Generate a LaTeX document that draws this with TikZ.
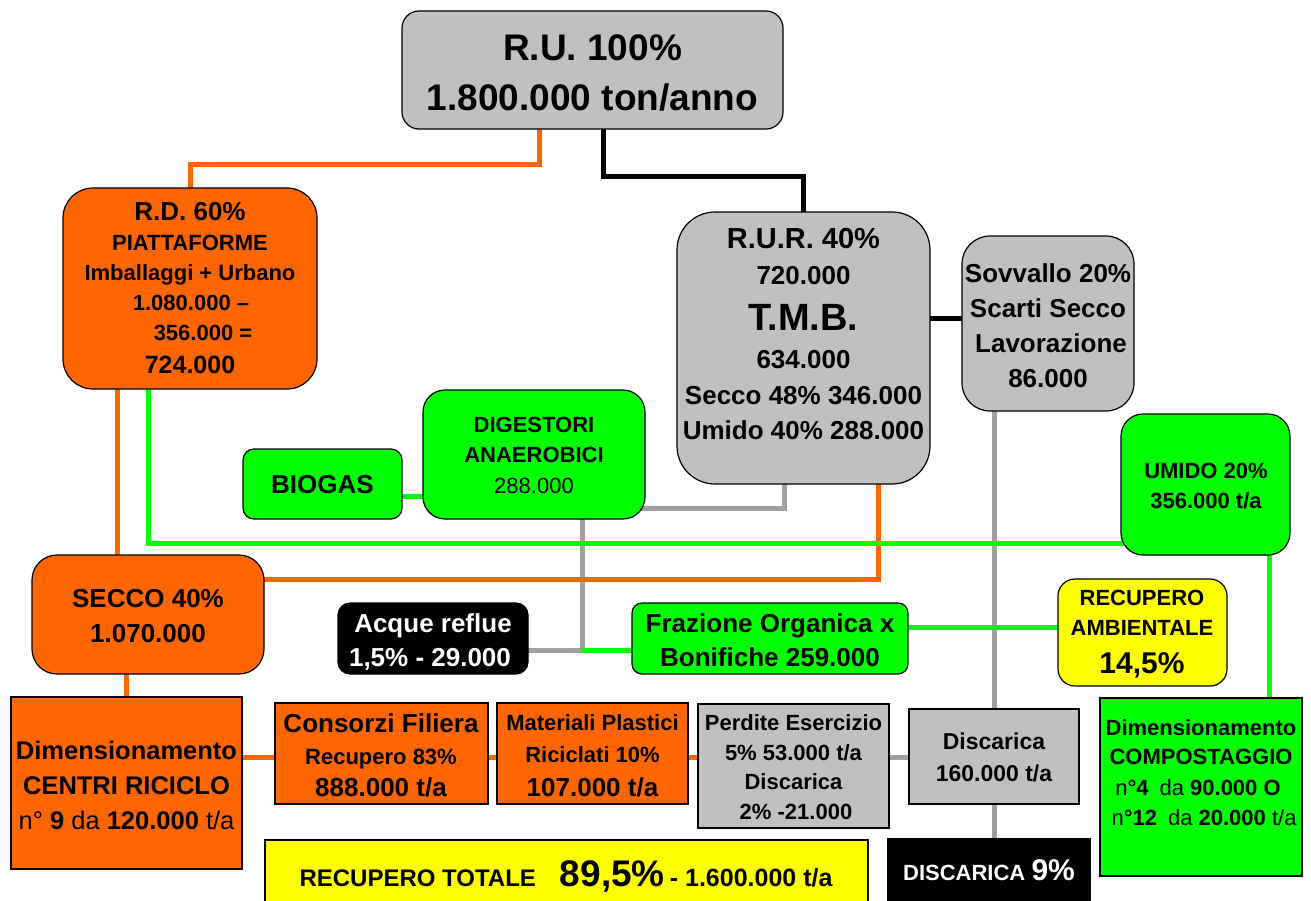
\documentclass[tikz,border=0pt]{standalone}
\usepackage{fontspec}
\setmainfont{Liberation Sans}
\usetikzlibrary{calc}
\pgfdeclarelayer{bg}
\pgfsetlayers{bg,main}
\definecolor{ora}{HTML}{FF6600}
\definecolor{grn}{HTML}{00FF00}
\definecolor{gfill}{HTML}{C0C0C0}
\definecolor{gline}{HTML}{A0A0A0}
\definecolor{yel}{HTML}{FFFF00}
\newcommand{\mkbox}[6]{\node[#6, minimum width={(#4-#2)*1pt}, minimum height={(#5-#3)*1pt}] (#1) at ({(#2+#4)/2},{(#3+#5)/2}) {};}
\newcommand{\tline}[5]{\node[tx, font=\fontsize{#4}{#4}\selectfont\bfseries] (#1) at (#2,{#3+0.358*#4}) {#5};}
\tikzset{
  tx/.style={anchor=base, inner sep=0pt, outer sep=0pt},
  box/.style={draw=black, line width=1.2pt, inner sep=0pt, outer sep=0pt},
  sbox/.style={draw=black, line width=1.5pt, inner sep=0pt, outer sep=0pt},
  conn/.style={line width=5pt},
  oL/.style={conn, draw=ora},
  gnL/.style={conn, draw=grn},
  gL/.style={conn, draw=gline},
  bL/.style={conn, draw=black},
}
\begin{document}
\begin{tikzpicture}[x=1pt,y=-1pt]
\useasboundingbox (0,0) rectangle (1311,900);
% boxes
\mkbox{ru}{402}{11}{783}{129}{box, fill=gfill, rounded corners=17pt}
\mkbox{rd}{63}{188}{317}{389}{box, fill=ora, rounded corners=30pt}
\mkbox{rur}{677}{212}{930}{484}{box, fill=gfill, rounded corners=38pt}
\mkbox{sov}{962}{236}{1134}{411}{box, fill=gfill, rounded corners=28pt}
\mkbox{dig}{423}{390}{645}{519}{box, fill=grn, rounded corners=22pt}
\mkbox{bio}{243}{449}{402}{519}{box, fill=grn, rounded corners=11pt}
\mkbox{umi}{1121}{414}{1290}{555}{box, fill=grn, rounded corners=22pt}
\mkbox{sec}{32}{555}{264}{674}{box, fill=ora, rounded corners=25pt}
\mkbox{acq}{338}{603}{528}{674}{box, fill=black, rounded corners=12pt}
\mkbox{fra}{632}{603}{908}{674}{box, fill=grn, rounded corners=10pt}
\mkbox{ram}{1058}{579}{1227}{686}{box, fill=yel, rounded corners=17pt}
\mkbox{cen}{11}{697}{242}{869}{sbox, fill=ora}
\mkbox{con}{275}{703}{488}{804}{sbox, fill=ora}
\mkbox{mat}{497}{703}{688}{804}{sbox, fill=ora}
\mkbox{per}{698}{704}{889}{828}{sbox, fill=gfill}
\mkbox{dis}{909}{709}{1079}{804}{sbox, fill=gfill}
\mkbox{dnove}{888}{839}{1090}{912}{sbox, fill=black}
\mkbox{rt}{265}{840}{868}{912}{sbox, fill=yel}
\mkbox{cmp}{1100}{698}{1302}{876}{sbox, fill=grn}
% texts
\tline{ru1}{592.5}{47}{37}{R.U. 100\%}
\tline{ru2}{592.5}{97}{37}{1.800.000 ton/anno}
\tline{rd1}{190}{211}{26}{R.D. 60\%}
\tline{rd2}{190}{243}{22}{PIATTAFORME}
\tline{rd3}{190}{273}{22}{Imballaggi + Urbano}
\tline{rd4}{191}{303}{22}{1.080.000 –}
\tline{rd5}{203}{333}{22}{356.000 =}
\tline{rd6}{190}{365}{25}{724.000}
\tline{rur1}{803.5}{238}{29}{R.U.R. 40\%}
\tline{rur2}{803.5}{275}{26}{720.000}
\tline{rur3}{803.5}{317}{38}{T.M.B.}
\tline{rur4}{803.5}{359}{26}{634.000}
\tline{rur5}{803.5}{395}{26}{Secco 48\% 346.000}
\tline{rur6}{803.5}{430}{26}{Umido 40\% 288.000}
\tline{sov1}{1048}{273}{26}{Sovvallo 20\%}
\tline{sov2}{1048}{308}{26}{Scarti Secco}
\tline{sov3}{1051}{343}{26}{Lavorazione}
\tline{sov4}{1048}{378}{26}{86.000}
\tline{dig1}{534}{425}{22}{DIGESTORI}
\tline{dig2}{534}{455}{22}{ANAEROBICI}
\tline{dig3}{534}{486}{22}{\textmd{288.000}}
\tline{bio1}{322.5}{484}{26}{BIOGAS}
\tline{umi1}{1206}{471}{22}{UMIDO 20\%}
\tline{umi2}{1206}{501}{22}{356.000 t/a}
\tline{ram1}{1142}{598}{22}{RECUPERO}
\tline{ram2}{1142}{628}{22}{AMBIENTALE}
\tline{ram3}{1142}{663}{30}{14,5\%}
\tline{sec1}{148}{598}{26}{SECCO 40\%}
\tline{sec2}{148}{633}{26}{1.070.000}
\tline{acq1}{433}{623}{26}{\color{white}Acque reflue}
\tline{acq2}{430}{657}{26}{\color{white}1,5\% - 29.000}
\tline{fra1}{770}{623}{26}{Frazione Organica x}
\tline{fra2}{770}{657}{26}{Bonifiche 259.000}
\tline{cen1}{126.5}{750}{25.5}{Dimensionamento}
\tline{cen2}{126.5}{785}{25.5}{CENTRI RICICLO}
\tline{cen3}{126.5}{820}{25.5}{\textmd{n°} 9 \textmd{da} 120.000 \textmd{t/a}}
\tline{con1}{381}{723}{26}{Consorzi Filiera}
\tline{con2}{381}{757}{22}{Recupero 83\%}
\tline{con3}{381}{787}{26}{888.000 t/a}
\tline{mat1}{592.5}{723}{22}{Materiali Plastici}
\tline{mat2}{592.5}{755}{22}{Riciclati 10\%}
\tline{mat3}{592.5}{787}{26}{107.000 t/a}
\tline{per1}{793.5}{723}{22}{Perdite Esercizio}
\tline{per2}{793.5}{753}{22}{5\% 53.000 t/a}
\tline{per3}{793.5}{782}{22}{Discarica}
\tline{per4}{796}{812}{22}{2\% -21.000}
\tline{dis1}{994}{741}{23}{Discarica}
\tline{dis2}{994}{773}{23}{160.000 t/a}
\tline{dnove1}{989}{873}{22}{\color{white}DISCARICA {\fontsize{30}{30}\selectfont 9\%}}
\tline{rt1}{566}{878}{25}{{\fontsize{24}{24}\selectfont RECUPERO TOTALE}\hspace{24pt}{\fontsize{37}{37}\selectfont 89,5\%}\hspace{5pt}{\fontsize{25}{25}\selectfont - 1.600.000 t/a}}
\tline{cmp1}{1201}{728}{22}{Dimensionamento}
\tline{cmp2}{1201}{757}{22}{COMPOSTAGGIO}
\tline{cmp3}{1198}{788}{22}{\textmd{n}°4\hspace{0.5em}\textmd{da} 90.000 O}
\tline{cmp4}{1204}{818}{22}{\textmd{n}°12\hspace{0.5em}\textmd{da} 20.000 \textmd{t/a}}
% connectors
\begin{pgfonlayer}{bg}
\fill[white] (0,0) rectangle (1311,900);
\coordinate (jx) at ($(dig.south)+(48,0)$);
\coordinate (jy) at ($(acq.center)+(0,11.5)$);
\coordinate (o3) at ($(con.center)+(0,3.5)$);
\draw[gL] ($(rur.south)+(-19.5,0)$) |- ($(dig.south)+(0,-11)$);
\draw[gL] (jx) |- (acq.center |- jy);
\draw[gL] (dis.center |- sov.center) -- (dis.center |- dnove.center);
\draw[gL] (o3 -| per.center) -- (o3 -| dis.center);
\coordinate (by) at ($(rur.center)+(0,-30)$);
\draw[bL] (by) -- (by -| sov.center);
\draw[bL] ($(ru.south)+(10.5,0)$) -- ++(0,47) -| (rur.center);
\draw[oL] ($(ru.south)+(-53.5,0)$) -- ++(0,35) -| (rd.center);
\coordinate (o1) at ($(rd.south)+(-73,0)$);
\draw[oL] (o1) -- (o1 |- sec.center);
\coordinate (o2) at ($(rur.south)+(74.5,0)$);
\coordinate (o2y) at ($(sec.north)+(0,24)$);
\draw[oL] (o2) |- (sec.center |- o2y);
\draw[oL] (sec.center -| cen.center) -- (cen.center);
\draw[oL] (o3 -| cen.center) -- (o3 -| per.center);
\coordinate (g1) at ($(rd.south)+(-42,0)$);
\coordinate (g1y) at ($(umi.south)+(0,-12)$);
\draw[gnL] (g1) |- (g1y);
\coordinate (g2) at ($(bio.center)+(0,12)$);
\draw[gnL] (g2) -- (g2 -| dig.center);
\draw[gnL] (jx |- jy) -- (fra.center |- jy);
\coordinate (g3) at ($(fra.center)+(0,-11.5)$);
\draw[gnL] (g3) -- (g3 -| ram.center);
\coordinate (g4) at ($(umi.center)+(63.5,0)$);
\draw[gnL] (g4) -- (g4 |- cmp.center);
\end{pgfonlayer}
\end{tikzpicture}
\end{document}
